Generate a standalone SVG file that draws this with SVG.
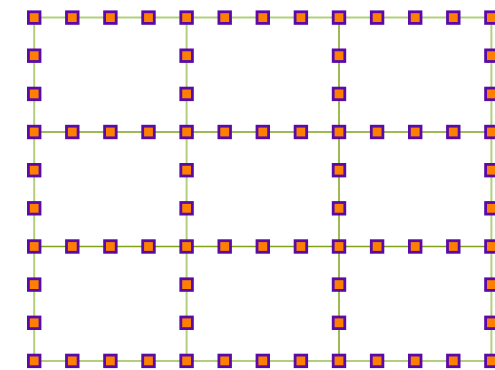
<svg xmlns="http://www.w3.org/2000/svg" width="495" height="370" viewBox="0 0 495 370">
<style>
.pale{stroke:#b4cf7c;stroke-width:2;fill:none}
.dark{stroke:#80a31a;stroke-width:1.5;fill:none}
.node rect{fill:#ff8000;stroke:#5a0aa8;stroke-width:2.8;width:11.6px;height:11.6px}
</style>
<rect width="495" height="370" fill="#ffffff"/>
<g id="connectors">
<line class="pale" x1="34.2" y1="17.6" x2="72.3" y2="17.6"/><line class="pale" x1="72.3" y1="17.6" x2="110.4" y2="17.6"/><line class="pale" x1="110.4" y1="17.6" x2="148.5" y2="17.6"/><line class="pale" x1="148.5" y1="17.6" x2="186.6" y2="17.6"/><line class="pale" x1="186.6" y1="17.6" x2="224.7" y2="17.6"/><line class="pale" x1="224.7" y1="17.6" x2="262.8" y2="17.6"/><line class="pale" x1="262.8" y1="17.6" x2="300.9" y2="17.6"/><line class="pale" x1="300.9" y1="17.6" x2="339" y2="17.6"/><line class="pale" x1="339" y1="17.6" x2="377.1" y2="17.6"/><line class="pale" x1="377.1" y1="17.6" x2="415.2" y2="17.6"/><line class="pale" x1="415.2" y1="17.6" x2="453.3" y2="17.6"/><line class="pale" x1="453.3" y1="17.6" x2="491.4" y2="17.6"/>
<line class="dark" x1="34.2" y1="132" x2="72.3" y2="132"/><line class="dark" x1="72.3" y1="132" x2="110.4" y2="132"/><line class="dark" x1="110.4" y1="132" x2="148.5" y2="132"/><line class="dark" x1="148.5" y1="132" x2="186.6" y2="132"/><line class="dark" x1="186.6" y1="132" x2="224.7" y2="132"/><line class="dark" x1="224.7" y1="132" x2="262.8" y2="132"/><line class="dark" x1="262.8" y1="132" x2="300.9" y2="132"/><line class="dark" x1="300.9" y1="132" x2="339" y2="132"/><line class="dark" x1="339" y1="132" x2="377.1" y2="132"/><line class="dark" x1="377.1" y1="132" x2="415.2" y2="132"/><line class="dark" x1="415.2" y1="132" x2="453.3" y2="132"/><line class="dark" x1="453.3" y1="132" x2="491.4" y2="132"/>
<line class="dark" x1="34.2" y1="246.5" x2="72.3" y2="246.5"/><line class="dark" x1="72.3" y1="246.5" x2="110.4" y2="246.5"/><line class="dark" x1="110.4" y1="246.5" x2="148.5" y2="246.5"/><line class="dark" x1="148.5" y1="246.5" x2="186.6" y2="246.5"/><line class="dark" x1="186.6" y1="246.5" x2="224.7" y2="246.5"/><line class="dark" x1="224.7" y1="246.5" x2="262.8" y2="246.5"/><line class="dark" x1="262.8" y1="246.5" x2="300.9" y2="246.5"/><line class="dark" x1="300.9" y1="246.5" x2="339" y2="246.5"/><line class="dark" x1="339" y1="246.5" x2="377.1" y2="246.5"/><line class="dark" x1="377.1" y1="246.5" x2="415.2" y2="246.5"/><line class="dark" x1="415.2" y1="246.5" x2="453.3" y2="246.5"/><line class="dark" x1="453.3" y1="246.5" x2="491.4" y2="246.5"/>
<line class="pale" x1="34.2" y1="360.9" x2="72.3" y2="360.9"/><line class="pale" x1="72.3" y1="360.9" x2="110.4" y2="360.9"/><line class="pale" x1="110.4" y1="360.9" x2="148.5" y2="360.9"/><line class="pale" x1="148.5" y1="360.9" x2="186.6" y2="360.9"/><line class="pale" x1="186.6" y1="360.9" x2="224.7" y2="360.9"/><line class="pale" x1="224.7" y1="360.9" x2="262.8" y2="360.9"/><line class="pale" x1="262.8" y1="360.9" x2="300.9" y2="360.9"/><line class="pale" x1="300.9" y1="360.9" x2="339" y2="360.9"/><line class="pale" x1="339" y1="360.9" x2="377.1" y2="360.9"/><line class="pale" x1="377.1" y1="360.9" x2="415.2" y2="360.9"/><line class="pale" x1="415.2" y1="360.9" x2="453.3" y2="360.9"/><line class="pale" x1="453.3" y1="360.9" x2="491.4" y2="360.9"/>
<line class="pale" x1="34.2" y1="17.6" x2="34.2" y2="55.7"/><line class="pale" x1="34.2" y1="55.7" x2="34.2" y2="93.9"/><line class="pale" x1="34.2" y1="93.9" x2="34.2" y2="132"/><line class="pale" x1="34.2" y1="132" x2="34.2" y2="170.2"/><line class="pale" x1="34.2" y1="170.2" x2="34.2" y2="208.3"/><line class="pale" x1="34.2" y1="208.3" x2="34.2" y2="246.5"/><line class="pale" x1="34.2" y1="246.5" x2="34.2" y2="284.6"/><line class="pale" x1="34.2" y1="284.6" x2="34.2" y2="322.8"/><line class="pale" x1="34.2" y1="322.8" x2="34.2" y2="360.9"/>
<line class="pale" x1="186.6" y1="17.6" x2="186.6" y2="55.7"/><line class="pale" x1="186.6" y1="55.7" x2="186.6" y2="93.9"/><line class="pale" x1="186.6" y1="93.9" x2="186.6" y2="132"/><line class="pale" x1="186.6" y1="132" x2="186.6" y2="170.2"/><line class="pale" x1="186.6" y1="170.2" x2="186.6" y2="208.3"/><line class="pale" x1="186.6" y1="208.3" x2="186.6" y2="246.5"/><line class="pale" x1="186.6" y1="246.5" x2="186.6" y2="284.6"/><line class="pale" x1="186.6" y1="284.6" x2="186.6" y2="322.8"/><line class="pale" x1="186.6" y1="322.8" x2="186.6" y2="360.9"/>
<line class="dark" x1="339" y1="17.6" x2="339" y2="55.7"/><line class="dark" x1="339" y1="55.7" x2="339" y2="93.9"/><line class="dark" x1="339" y1="93.9" x2="339" y2="132"/><line class="dark" x1="339" y1="132" x2="339" y2="170.2"/><line class="dark" x1="339" y1="170.2" x2="339" y2="208.3"/><line class="dark" x1="339" y1="208.3" x2="339" y2="246.5"/><line class="dark" x1="339" y1="246.5" x2="339" y2="284.6"/><line class="dark" x1="339" y1="284.6" x2="339" y2="322.8"/><line class="dark" x1="339" y1="322.8" x2="339" y2="360.9"/>
<line class="pale" x1="491.4" y1="17.6" x2="491.4" y2="55.7"/><line class="pale" x1="491.4" y1="55.7" x2="491.4" y2="93.9"/><line class="pale" x1="491.4" y1="93.9" x2="491.4" y2="132"/><line class="pale" x1="491.4" y1="132" x2="491.4" y2="170.2"/><line class="pale" x1="491.4" y1="170.2" x2="491.4" y2="208.3"/><line class="pale" x1="491.4" y1="208.3" x2="491.4" y2="246.5"/><line class="pale" x1="491.4" y1="246.5" x2="491.4" y2="284.6"/><line class="pale" x1="491.4" y1="284.6" x2="491.4" y2="322.8"/><line class="pale" x1="491.4" y1="322.8" x2="491.4" y2="360.9"/>
</g>
<g id="nodes" transform="translate(0.2 0.2)">
<g id="n0-0" class="node"><rect x="28.2" y="11.6"/></g><g id="n0-1" class="node"><rect x="66.3" y="11.6"/></g><g id="n0-2" class="node"><rect x="104.4" y="11.6"/></g><g id="n0-3" class="node"><rect x="142.5" y="11.6"/></g><g id="n0-4" class="node"><rect x="180.6" y="11.6"/></g><g id="n0-5" class="node"><rect x="218.7" y="11.6"/></g><g id="n0-6" class="node"><rect x="256.8" y="11.6"/></g><g id="n0-7" class="node"><rect x="294.9" y="11.6"/></g><g id="n0-8" class="node"><rect x="333" y="11.6"/></g><g id="n0-9" class="node"><rect x="371.1" y="11.6"/></g><g id="n0-10" class="node"><rect x="409.2" y="11.6"/></g><g id="n0-11" class="node"><rect x="447.3" y="11.6"/></g><g id="n0-12" class="node"><rect x="485.4" y="11.6"/></g>
<g id="n1-0" class="node"><rect x="28.2" y="49.7"/></g><g id="n1-4" class="node"><rect x="180.6" y="49.7"/></g><g id="n1-8" class="node"><rect x="333" y="49.7"/></g><g id="n1-12" class="node"><rect x="485.4" y="49.7"/></g>
<g id="n2-0" class="node"><rect x="28.2" y="87.9"/></g><g id="n2-4" class="node"><rect x="180.6" y="87.9"/></g><g id="n2-8" class="node"><rect x="333" y="87.9"/></g><g id="n2-12" class="node"><rect x="485.4" y="87.9"/></g>
<g id="n3-0" class="node"><rect x="28.2" y="126"/></g><g id="n3-1" class="node"><rect x="66.3" y="126"/></g><g id="n3-2" class="node"><rect x="104.4" y="126"/></g><g id="n3-3" class="node"><rect x="142.5" y="126"/></g><g id="n3-4" class="node"><rect x="180.6" y="126"/></g><g id="n3-5" class="node"><rect x="218.7" y="126"/></g><g id="n3-6" class="node"><rect x="256.8" y="126"/></g><g id="n3-7" class="node"><rect x="294.9" y="126"/></g><g id="n3-8" class="node"><rect x="333" y="126"/></g><g id="n3-9" class="node"><rect x="371.1" y="126"/></g><g id="n3-10" class="node"><rect x="409.2" y="126"/></g><g id="n3-11" class="node"><rect x="447.3" y="126"/></g><g id="n3-12" class="node"><rect x="485.4" y="126"/></g>
<g id="n4-0" class="node"><rect x="28.2" y="164.2"/></g><g id="n4-4" class="node"><rect x="180.6" y="164.2"/></g><g id="n4-8" class="node"><rect x="333" y="164.2"/></g><g id="n4-12" class="node"><rect x="485.4" y="164.2"/></g>
<g id="n5-0" class="node"><rect x="28.2" y="202.3"/></g><g id="n5-4" class="node"><rect x="180.6" y="202.3"/></g><g id="n5-8" class="node"><rect x="333" y="202.3"/></g><g id="n5-12" class="node"><rect x="485.4" y="202.3"/></g>
<g id="n6-0" class="node"><rect x="28.2" y="240.5"/></g><g id="n6-1" class="node"><rect x="66.3" y="240.5"/></g><g id="n6-2" class="node"><rect x="104.4" y="240.5"/></g><g id="n6-3" class="node"><rect x="142.5" y="240.5"/></g><g id="n6-4" class="node"><rect x="180.6" y="240.5"/></g><g id="n6-5" class="node"><rect x="218.7" y="240.5"/></g><g id="n6-6" class="node"><rect x="256.8" y="240.5"/></g><g id="n6-7" class="node"><rect x="294.9" y="240.5"/></g><g id="n6-8" class="node"><rect x="333" y="240.5"/></g><g id="n6-9" class="node"><rect x="371.1" y="240.5"/></g><g id="n6-10" class="node"><rect x="409.2" y="240.5"/></g><g id="n6-11" class="node"><rect x="447.3" y="240.5"/></g><g id="n6-12" class="node"><rect x="485.4" y="240.5"/></g>
<g id="n7-0" class="node"><rect x="28.2" y="278.6"/></g><g id="n7-4" class="node"><rect x="180.6" y="278.6"/></g><g id="n7-8" class="node"><rect x="333" y="278.6"/></g><g id="n7-12" class="node"><rect x="485.4" y="278.6"/></g>
<g id="n8-0" class="node"><rect x="28.2" y="316.8"/></g><g id="n8-4" class="node"><rect x="180.6" y="316.8"/></g><g id="n8-8" class="node"><rect x="333" y="316.8"/></g><g id="n8-12" class="node"><rect x="485.4" y="316.8"/></g>
<g id="n9-0" class="node"><rect x="28.2" y="354.9"/></g><g id="n9-1" class="node"><rect x="66.3" y="354.9"/></g><g id="n9-2" class="node"><rect x="104.4" y="354.9"/></g><g id="n9-3" class="node"><rect x="142.5" y="354.9"/></g><g id="n9-4" class="node"><rect x="180.6" y="354.9"/></g><g id="n9-5" class="node"><rect x="218.7" y="354.9"/></g><g id="n9-6" class="node"><rect x="256.8" y="354.9"/></g><g id="n9-7" class="node"><rect x="294.9" y="354.9"/></g><g id="n9-8" class="node"><rect x="333" y="354.9"/></g><g id="n9-9" class="node"><rect x="371.1" y="354.9"/></g><g id="n9-10" class="node"><rect x="409.2" y="354.9"/></g><g id="n9-11" class="node"><rect x="447.3" y="354.9"/></g><g id="n9-12" class="node"><rect x="485.4" y="354.9"/></g>
</g>
</svg>
